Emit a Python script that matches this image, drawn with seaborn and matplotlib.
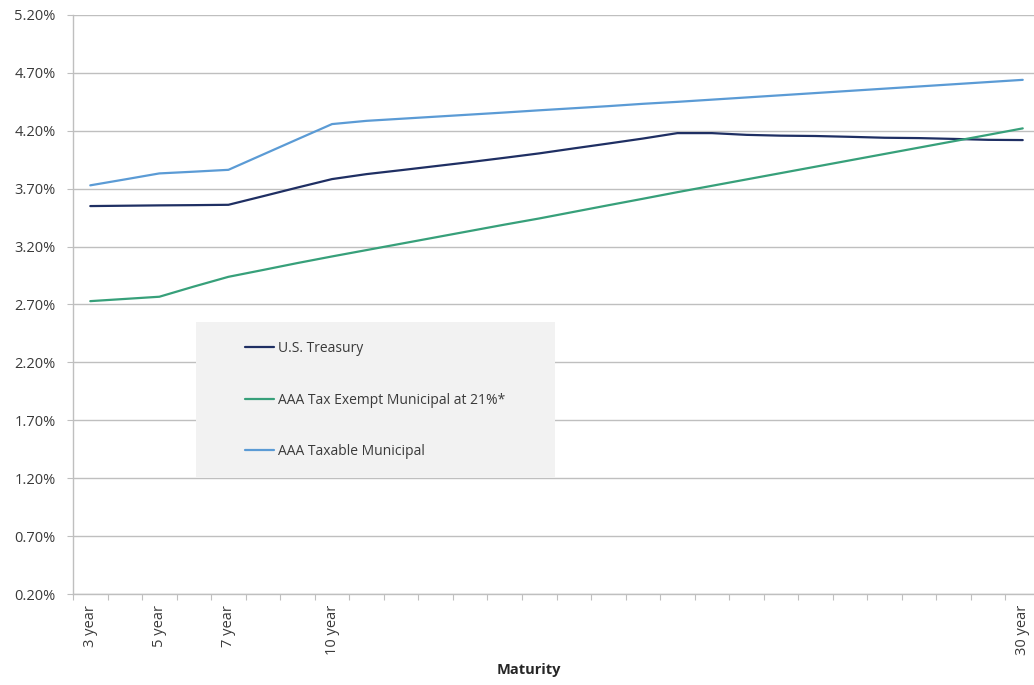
import numpy as np
import pandas as pd
import matplotlib
matplotlib.use("Agg")
import matplotlib.pyplot as plt
import matplotlib.ticker as mticker
from matplotlib.patches import Rectangle
from matplotlib.lines import Line2D
import seaborn as sns

# ---- data ----
maturities = [f"{y} year" for y in range(3, 31)]
labeled_maturities = ["3 year", "5 year", "7 year", "10 year", "30 year"]

treasury = [3.550, 3.553, 3.556, 3.558, 3.561, 3.635, 3.710, 3.783, 3.826, 3.860,
            3.895, 3.930, 3.967, 4.005, 4.048, 4.090, 4.133, 4.180, 4.180, 4.165,
            4.158, 4.155, 4.148, 4.140, 4.137, 4.130, 4.122, 4.120]
tax_exempt = [2.729, 2.748, 2.767, 2.855, 2.939, 2.998, 3.058, 3.115, 3.170, 3.225,
              3.280, 3.335, 3.390, 3.443, 3.500, 3.557, 3.613, 3.670, 3.725, 3.780,
              3.835, 3.890, 3.945, 4.000, 4.055, 4.110, 4.165, 4.221]
taxable = [3.729, 3.780, 3.832, 3.847, 3.863, 3.995, 4.127, 4.258, 4.286, 4.304,
           4.322, 4.340, 4.358, 4.377, 4.395, 4.413, 4.433, 4.450, 4.469, 4.488,
           4.507, 4.526, 4.545, 4.564, 4.583, 4.602, 4.621, 4.640]

series_names = ["U.S. Treasury", "AAA Tax Exempt Municipal at 21%*", "AAA Taxable Municipal"]
series_colors = ["#1F2F63", "#37A07A", "#5B9BD5"]
y_ticks = [0.20, 0.70, 1.20, 1.70, 2.20, 2.70, 3.20, 3.70, 4.20, 4.70, 5.20]

# ---- tidy table ----
rows = []
for name, vals in zip(series_names, [treasury, tax_exempt, taxable]):
    for i, (m, v) in enumerate(zip(maturities, vals)):
        rows.append({"pos": i, "Maturity": m, "Yield": v, "Series": name})
df = pd.DataFrame(rows)

sns.set_theme(style="white")
FONT = ["Open Sans", "DejaVu Sans"]
plt.rcParams["font.family"] = FONT
TXT = "#3A3A3A"
GRID = "#BFBFBF"

W, H = 1034, 685
fig = plt.figure(figsize=(W / 100, H / 100), dpi=100)
ax_left, ax_right, ax_top, ax_bottom = 73, 1040, 15, 594
ax = fig.add_axes([ax_left / W, (H - ax_bottom) / H,
                   (ax_right - ax_left) / W, (ax_bottom - ax_top) / H])

sns.lineplot(data=df, x="pos", y="Yield", hue="Series", hue_order=series_names,
             palette=series_colors, linewidth=1.6, ax=ax, legend=False, zorder=3)

ax.set_xlim(-0.5, len(maturities) - 0.5)
ax.set_ylim(y_ticks[0], y_ticks[-1])
ax.set_yticks(y_ticks)
ax.yaxis.set_major_formatter(mticker.FuncFormatter(lambda v, p: f"{v:.2f}%"))
ax.grid(axis="y", color=GRID, linewidth=1.0)
ax.grid(axis="x", visible=False)
ax.set_axisbelow(True)

# category boundary ticks (major) and labels (minor)
ax.set_xticks(np.arange(-0.5, len(maturities), 1.0))
ax.set_xticklabels([])
lab_pos = [maturities.index(m) for m in labeled_maturities]
ax.set_xticks(lab_pos, minor=True)
ax.set_xticklabels(labeled_maturities, minor=True, rotation=90, va="top", ha="center")
ax.tick_params(axis="x", which="major", direction="out", length=4, width=0.8, color=GRID, bottom=True)
ax.tick_params(axis="x", which="minor", length=0, pad=8, labelsize=10.5, labelcolor=TXT)
ax.tick_params(axis="y", direction="out", length=4.5, width=0.8, color=GRID, left=True,
               pad=8, labelsize=10.5, labelcolor=TXT)

for s in ["top", "right"]:
    ax.spines[s].set_visible(False)
for s in ["left", "bottom"]:
    ax.spines[s].set_color(GRID)
    ax.spines[s].set_linewidth(1.0)

ax.set_xlabel("")
ax.set_ylabel("")
fig.text(529 / W, 1 - 670 / H, "Maturity", ha="center", va="center",
         fontsize=10.5, fontweight="bold", color="#262626")

# legend with grey panel
box = Rectangle((196 / W, 1 - 477 / H), (555 - 196) / W, (477 - 322) / H,
                transform=fig.transFigure, facecolor="#F2F2F2", edgecolor="none", zorder=2.5)
ax.add_patch(box)
handles = [Line2D([0], [0], color=c, linewidth=1.6) for c in series_colors]
leg = ax.legend(handles, series_names, loc="center left",
                bbox_to_anchor=(245 / W, 1 - 400 / H), bbox_transform=fig.transFigure,
                frameon=False, fontsize=10, handlelength=2.1, handletextpad=0.25,
                labelspacing=2.62, borderpad=0, borderaxespad=0)
for t in leg.get_texts():
    t.set_color(TXT)
leg.set_zorder(4)

fig.savefig("out.png", dpi=100)
